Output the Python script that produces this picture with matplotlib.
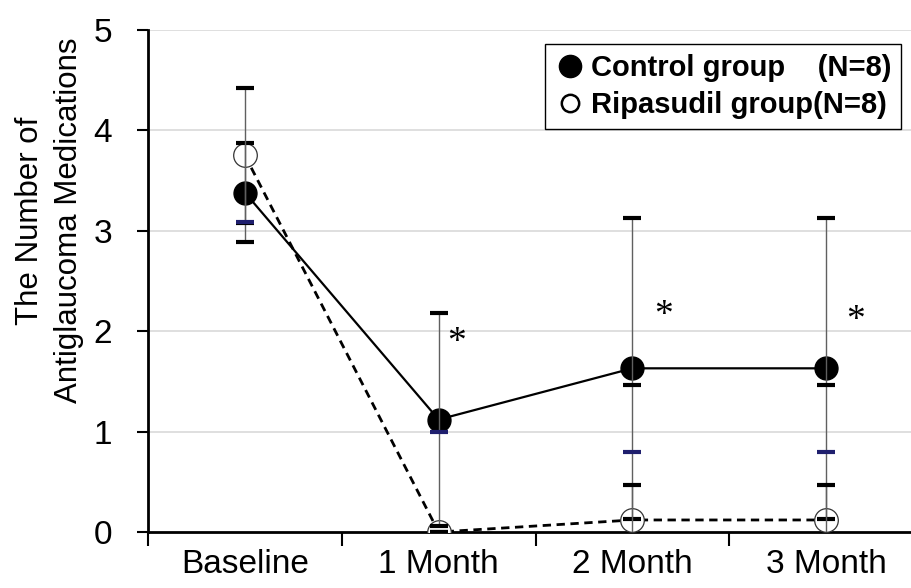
import numpy as np
import matplotlib
matplotlib.use("Agg")
import matplotlib.pyplot as plt
from matplotlib.lines import Line2D

plt.rcParams['font.family'] = ['Liberation Sans', 'DejaVu Sans']

# datos
categorias = ['Baseline', '1 Month', '2 Month', '3 Month']
control_media = [3.38, 1.12, 1.63, 1.63]
control_de = [0.49, 1.06, 1.50, 1.50]
ripa_media = [3.75, 0.0, 0.12, 0.12]
ripa_de = [0.67, 0.0, 0.35, 0.35]
# topes sueltos que aparecen sobre las barras
topes_azules = [3.09, 1.00, 0.80, 0.80]
topes_negros = [np.nan, np.nan, 1.46, 1.46]
# asteriscos de significancia
sig_x = [1.09, 2.16, 3.15]
sig_y = [1.88, 2.15, 2.10]

x = np.arange(len(categorias))

fig = plt.figure(figsize=(9.12, 5.88), dpi=100)
ax = fig.add_axes([0.1623, 0.0952, 0.8498, 0.854])

for yv in [1, 2, 3, 4, 5]:
    ax.axhline(yv, color='#d9d9d9', lw=1.2, zorder=0)

ax.plot(x, control_media, '-', color='black', lw=1.6, zorder=2)
ax.plot(x, ripa_media, '--', color='black', lw=2.0, dashes=(3, 2), zorder=2)
ax.plot(x, ripa_media, 'o', ms=17, mfc='white', mec='#333333', mew=0.9, zorder=3)
ax.plot(x, control_media, 'o', ms=16.5, mfc='black', mec='black', zorder=3)

barras = []
barras.append(ax.errorbar(x, control_media, yerr=control_de, fmt='none', ecolor='#606060',
                          elinewidth=1, capsize=6.5, capthick=3, zorder=4))
barras.append(ax.errorbar(x, ripa_media, yerr=ripa_de, fmt='none', ecolor='#606060',
                          elinewidth=1, capsize=6.5, capthick=3, zorder=4))
# los topes van en negro
for b in barras:
    for c in b[1]:
        c.set_markeredgecolor('black')
        c.set_color('black')

ax.plot(x, topes_negros, '_', ms=13, mew=3, color='black', zorder=5)
ax.plot(x, topes_azules, '_', ms=13, mew=3, color='#1f1f6e', zorder=5)

for sx, sy in zip(sig_x, sig_y):
    ax.text(sx, sy, '*', fontsize=27, family='Liberation Serif',
            ha='center', va='center')

ax.set_xlim(-0.5, 3.5)
ax.set_ylim(0, 5)
ax.set_xticks(np.arange(-0.5, 4, 1))
ax.set_xticks(x, minor=True)
ax.set_xticklabels([])
ax.set_xticklabels(categorias, minor=True, fontsize=24)
ax.tick_params(axis='x', which='major', direction='out', length=10, width=1.5)
ax.tick_params(axis='x', which='minor', length=0, pad=12)
ax.set_yticks([0, 1, 2, 3, 4, 5])
ax.tick_params(axis='y', direction='out', length=8, width=1.5, labelsize=24, pad=18)
for s in ['top', 'right']:
    ax.spines[s].set_visible(False)
for s in ['left', 'bottom']:
    ax.spines[s].set_linewidth(2)
ax.spines['bottom'].set_clip_on(False)

fig.text(0.054, 0.625, 'The Number of\nAntiglaucoma Medications', rotation=90,
         ha='center', va='center', fontsize=22.5, linespacing=1.4)

handles = [
    Line2D([], [], ls='none', marker='o', ms=16, mfc='black', mec='black'),
    Line2D([], [], ls='none', marker='o', ms=12.5, mfc='white', mec='black', mew=1.8),
]
leg = fig.legend(handles, ['Control group    (N=8)', 'Ripasudil group(N=8)'],
                 loc='upper left', bbox_to_anchor=(0.598, 0.925),
                 bbox_transform=fig.transFigure, borderaxespad=0,
                 prop={'weight': 'bold', 'size': 21}, frameon=True,
                 fancybox=False, framealpha=1, edgecolor='black',
                 handletextpad=0.2, handlelength=1.0, labelspacing=0.3,
                 borderpad=0.35)
leg.get_frame().set_linewidth(1)

fig.savefig('out.png', dpi=100)
